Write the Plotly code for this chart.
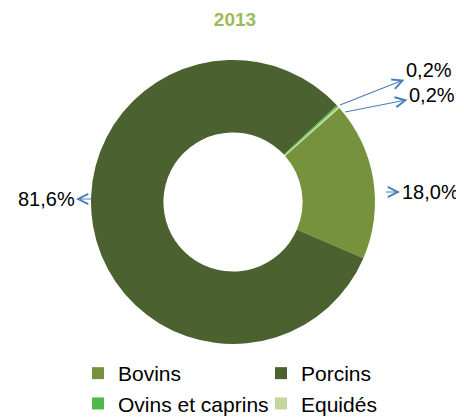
import plotly.graph_objects as go

# ---- data ----
categories = ["Bovins", "Porcins", "Ovins et caprins", "Equidés"]
values = [18.0, 81.6, 0.2, 0.2]
value_labels = ["18,0%", "81,6%", "0,2%", "0,2%"]
title_text = "2013"

# ---- style ----
W, H = 464, 418
OFF = 8                      # page body margin in the browser
colors = ["#76923C", "#4B612F", "#50B848", "#C3D69B"]
font_family = "Liberation Sans, Arial, sans-serif"
cx, cy, R = 233, 202, 142    # donut centre / radius in screen px
hole = 0.49
rotation = 48.5

# label placement in screen px: (tail x, tail y, text centre x, text centre y)
label_pos = {
    "Bovins": (386, 192, 430, 192),
    "Porcins": (92, 199, 46, 199),
    "Ovins et caprins": (340, 105, 429, 70),
    "Equidés": (345, 112, 432, 95),
}

def fx(x):
    return (x - OFF) / W

def fy(y):
    return 1 - (y - OFF) / H

fig = go.Figure(go.Pie(
    labels=categories,
    values=values,
    hole=hole,
    sort=False,
    direction="clockwise",
    rotation=rotation,
    marker=dict(colors=colors, line=dict(color="white", width=0)),
    textinfo="none",
    hoverinfo="label+percent",
    domain=dict(x=[fx(cx - R), fx(cx + R)], y=[fy(cy + R), fy(cy - R)]),
))

annotations = []
for cat, lab in zip(categories, value_labels):
    tx, ty, lx, ly = label_pos[cat]
    annotations.append(dict(
        x=fx(tx), y=fy(ty), xref="paper", yref="paper",
        ax=lx - tx, ay=ly - ty, axref="pixel", ayref="pixel",
        text=lab, showarrow=True, arrowside="start",
        startarrowhead=5, startarrowsize=1.8, arrowwidth=1.1,
        arrowcolor="#4A7EBB",
        font=dict(family=font_family, size=20, color="#000000"),
    ))

fig.update_layout(
    width=W, height=H,
    margin=dict(l=0, r=0, t=0, b=0),
    paper_bgcolor="white", plot_bgcolor="white",
    title=dict(text="<b>" + title_text + "</b>", x=fx(235), xanchor="center",
               y=fy(19), yanchor="middle", yref="container",
               font=dict(family=font_family, size=19, color="#9BBB59")),
    showlegend=True,
    legend=dict(orientation="h", x=fx(78), y=fy(353), xanchor="left", yanchor="top",
                entrywidth=138, entrywidthmode="pixels",
                font=dict(family=font_family, size=21, color="#000000"),
                traceorder="normal"),
    annotations=annotations,
)

fig.write_html("out.html")
